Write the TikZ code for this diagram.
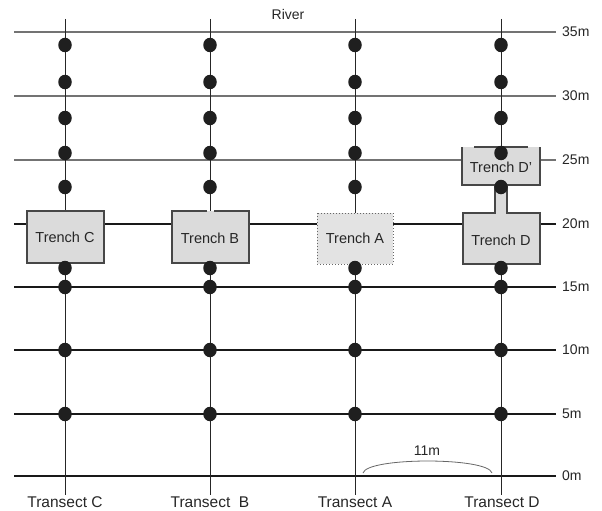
\documentclass[tikz,border=0pt]{standalone}
\usepackage{fontspec}
\setmainfont{Liberation Sans}
\usetikzlibrary{shapes.geometric}
\begin{document}
\begin{tikzpicture}[x=1pt,y=-1pt,
  hline/.style={line width=1.1pt, draw=black!90},
  hgray/.style={line width=1.1pt, draw=black!55},
  tline/.style={line width=1pt, draw=black!85},
  dotnode/.style={ellipse, fill=black!88, minimum width=13.5pt, minimum height=14.5pt, inner sep=0pt},
  trenchfill/.style={fill=black!14},
  trenchline/.style={draw=black!72, line width=1.3pt},
  lbl/.style={font=\fontsize{14}{16}\selectfont, text=black!85, inner sep=0pt},
  trlbl/.style={font=\fontsize{14.5}{16}\selectfont, text=black!85, inner sep=0pt},
  tslbl/.style={font=\fontsize{15.5}{17}\selectfont, text=black!85, inner sep=0pt},
  arcline/.style={draw=black!60, line width=0.8pt}
]
\useasboundingbox (0,0) rectangle (602,511);

% horizontal lines
\foreach \y/\m in {32/35,96/30,160/25} {
  \coordinate (L\m) at (14,\y);
  \coordinate (R\m) at (556,\y);
  \draw[hgray] (L\m) -- (R\m);
  \node[lbl, anchor=west] (M\m) at (562,\y) {\m m};
}
\foreach \y/\m in {224/20,287/15,350/10,414/5,476/0} {
  \coordinate (L\m) at (14,\y);
  \coordinate (R\m) at (556,\y);
  \draw[hline] (L\m) -- (R\m);
  \node[lbl, anchor=west] (M\m) at (562,\y) {\m m};
}

\node[lbl] (river) at (288,14) {River};

% transects
\foreach \n/\x in {C/65,B/210,A/355,D/501} {
  \coordinate (T\n top) at (\x,19);
  \coordinate (T\n bot) at (\x,495);
  \draw[tline] (T\n top) -- (T\n bot);
}
\node[tslbl] (TClab) at (65,502.5) {Transect C};
\node[tslbl] (TBlab) at (210,502.5) {Transect\ \ B};
\node[tslbl] (TAlab) at (355,502.5) {Transect A};
\node[tslbl] (TDlab) at (502,502.5) {Transect D};

% Trench C
\fill[trenchfill] (27,211) rectangle (104,263);
\draw[trenchline] (27,211) rectangle (104,263);
\node[trlbl] (trC) at (65,237) {Trench C};

% Trench B (gap in top edge)
\fill[trenchfill] (172,211) rectangle (249,263);
\draw[trenchline] (207,211) -- (172,211) -- (172,263) -- (249,263) -- (249,211) -- (214,211);
\node[trlbl] (trB) at (210,238) {Trench B};

% Trench A (dotted)
\fill[black!11] (317,213) rectangle (393,264);
\draw[draw=black!60, line width=1pt, dotted] (317,213) rectangle (393,264);
\node[trlbl] (trA) at (355,238) {Trench A};

% Trench D and D'
\fill[trenchfill] (462,147) rectangle (540,185);
\fill[trenchfill] (495,184) rectangle (507,214);
\fill[trenchfill] (463,213) rectangle (540,264);
\draw[trenchline] (495,185) -- (495,213) -- (463,213) -- (463,264) -- (540,264) -- (540,213) -- (507,213) -- (507,185);
\draw[trenchline] (462,147) -- (462,185) -- (495,185);
\draw[trenchline] (507,185) -- (540,185) -- (540,147);
\draw[trenchline] (474,147) -- (528,147);
\node[trlbl] (trD) at (501,240) {Trench D};
\node[trlbl] (trDp) at (501,167) {Trench D’};

% dots
\foreach \n/\x in {C/65,B/210,A/355,D/501} {
  \foreach \i/\y in {1/45,2/82,3/118,4/153,5/187,6/268,7/287,8/350,9/414} {
    \node[dotnode] (d\n\i) at (\x,\y) {};
  }
}

% 11m arc
\coordinate (arcL) at (363,473);
\coordinate (arcR) at (492,473);
\draw[arcline] (arcL) .. controls (367,457) and (488,457) .. (arcR);
\node[lbl] (elev) at (427,451) {11m};
\end{tikzpicture}
\end{document}
